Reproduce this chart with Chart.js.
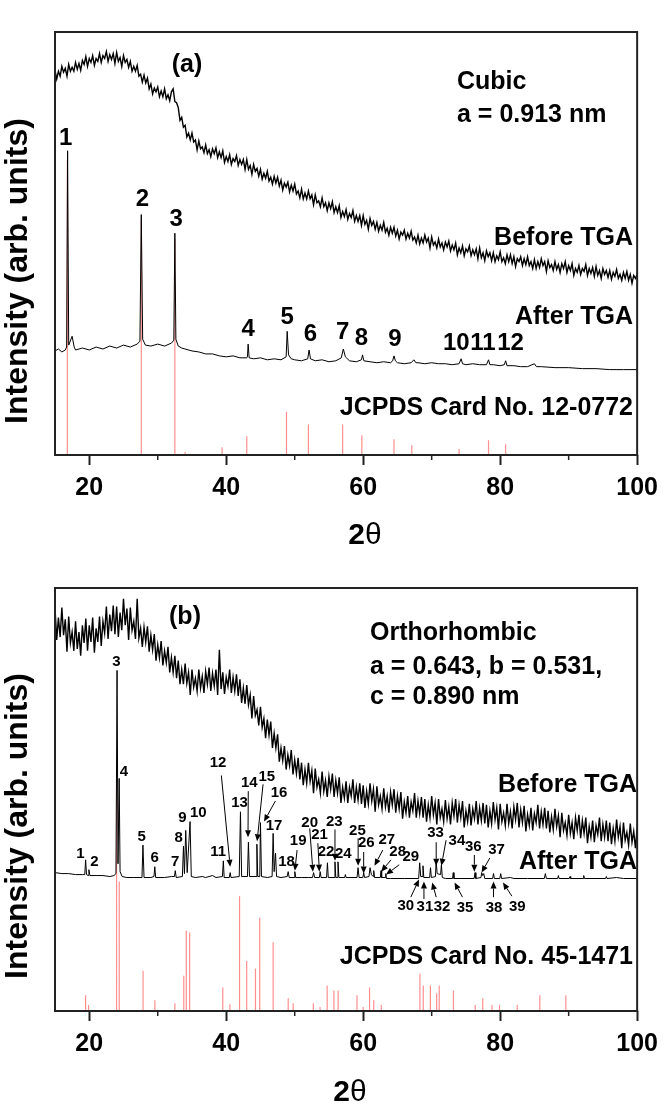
<!DOCTYPE html>
<html lang="en">
<head>
<meta charset="utf-8" />
<title>XRD patterns before / after TGA</title>
<script src="https://cdn.jsdelivr.net/npm/chart.js@4.4.1/dist/chart.umd.min.js"></script>
<style>
  html, body { margin: 0; padding: 0; background: #fff; }
  .panel { position: absolute; left: 0; width: 666px; height: 553px; }
  #pa { top: 0; }
  #pb { top: 553px; }
</style>
</head>
<body>
<div class="panel" id="pa"><canvas id="ca" width="666" height="553"></canvas></div>
<div class="panel" id="pb"><canvas id="cb" width="666" height="553"></canvas></div>
<script>
const FONT = "'Liberation Sans', Arial, sans-serif";

// 2-theta axis
const MAJOR_TICKS = [20, 40, 60, 80, 100];
const MINOR_TICKS = [30, 50, 70, 90];

// "Before TGA" scans are sampled every 0.25 deg from 15 to 100 (arb. units), 4 values per degree
const SCAN_START = 15;
const SCAN_STEP = 0.25;

// ---- panel (a): cubic ----
const beforeA = [
  392,383,391,386, 396,390,394,386, 398,391,395,391, 400,393,399,392, 402,398,406,396,
  404,400,407,397, 404,401,409,400, 407,404,411,401, 408,403,409,399, 410,401,405,396,
  407,400,403,395, 401,391,396,391, 397,386,388,380, 387,379,384,373, 378,368,374,370,
  375,365,371,365, 373,363,367,361, 370,373,360,359, 354,341,344,334, 336,324,328,321,
  328,319,321,311, 320,312,314,308, 316,307,311,304, 312,307,313,303, 309,303,310,298,
  304,299,306,296, 302,299,305,295, 301,296,301,291, 301,291,295,286, 296,289,292,284,
  291,281,287,282, 289,279,283,276, 284,277,283,274, 280,270,277,273, 278,268,275,269,
  276,266,269,262, 271,261,267,261, 269,261,265,255, 265,257,259,253, 262,253,257,249,
  257,251,258,247, 253,247,254,242, 248,243,250,240, 246,242,249,238, 244,238,244,234,
  244,235,239,230, 241,234,238,230, 237,228,234,229, 237,227,231,224, 232,226,232,223,
  229,220,227,224, 229,220,226,221, 228,219,222,216, 224,215,221,216, 224,217,221,211,
  222,214,217,211, 220,212,216,209, 217,212,218,208, 214,209,216,204, 211,206,213,203,
  210,207,213,203, 209,204,210,200, 211,201,206,198, 208,202,206,198, 206,197,203,199,
  207,197,201,195, 204,197,204,195, 202,192,200,197, 202,193,200,194, 202,193,197,190,
  199,190,197,191, 200,193,197,187, 198,191,194,188, 197,189,194,186, 195,190,197,186,
  193,188,195,183, 190,186,193,184, 190,187,194,183, 190,185,191,182, 192,183,188,180,
  190,184,188,181, 188,179,186,182, 189,180,184,178, 186,180,187,178, 184,175,183,180,
  184
];

// [2theta, intensity]
const afterA = [
  [15,106],[15.5,108],[16,105],[16.5,107],[16.7,110],[16.84,310],[17,112],[17.5,121],[17.8,110],[18,107],
  [19,109],[20,107],[21,110],[22,108],[23,111],[24,109],[25,112],[26,110],[27,113],[27.4,116],
  [27.6,245],[27.8,118],[28.2,112],[29,111],[30,113],[31,111],[32,114],[32.35,117],[32.5,226],[32.65,118],
  [33,111],[33.5,109],[34,108],[35,106],[36,105],[37,103],[38,103],[39,101],[40,100],[41,101],
  [42,99],[43,99],[43.1,100],[43.2,113],[43.35,99],[44,98],[45,99],[46,97],[47,98],[48,97],
  [48.75,100],[48.9,126],[49.1,102],[49.5,98],[50,97],[51,96],[51.9,98],[52.1,107],[52.3,98],[53,96],
  [54,97],[55,95],[56,96],[56.8,99],[57.1,108],[57.4,100],[58,96],[59,95],[59.75,97],[59.9,102],
  [60.1,96],[61,95],[62,94],[63,95],[64,94],[64.3,96],[64.5,101],[64.7,96],[65,94],[66,93],
  [67,94],[67.4,97],[67.7,94],[68,94],[69,93],[70,94],[71,93],[72,93],[73,92],[74,93],
  [74.3,98],[74.5,93],[75,92],[76,93],[77,92],[78,92],[78.3,97],[78.5,92],[79,92],[80,91],
  [80.6,92],[80.8,96],[81,91],[82,91],[83,90],[84,90],[85,93],[85.3,90],[86,90],[88,89],
  [90,89],[92,88],[94,88],[96,87],[98,87],[100,87]
];

// JCPDS 12-0772 reference lines [2theta, height]
const cardA = [
  [16.8,300],[27.6,240],[32.5,220],[34.0,3],[39.4,8],[43.0,19],[48.8,44],[52.0,31],
  [57.0,31],[59.8,20],[64.5,16],[67.1,10],[74.0,6],[78.3,15],[80.8,11]
];

// peak numbers [text, 2theta, intensity]
const peaksA = [
  ['1',16.56,323],['2',27.78,260],['3',32.69,240],['4',43.22,128],['5',48.91,140],['6',52.3,123],
  ['7',56.99,125],['8',59.73,119],['9',64.64,118],['10',73.59,114],['11',77.48,114],['12',81.52,114]
];

// ---- panel (b): orthorhombic ----
const beforeB = [
  411,378,401,381, 411,383,399,366, 402,375,386,367, 397,369,386,362, 393,375,400,367,
  393,376,401,365, 390,376,402,372, 397,385,412,379, 404,387,413,384, 412,381,406,388,
  420,393,410,378, 411,388,397,379, 420,380,390,371, 391,376,392,366, 383,368,384,357,
  373,360,377,352, 367,355,371,345, 360,345,362,339, 357,333,348,333, 354,334,345,322,
  348,330,339,326, 348,329,341,324, 346,333,350,326, 344,331,348,322, 368,328,345,323,
  340,331,348,324, 340,326,343,321, 338,314,329,313, 332,312,322,298, 321,301,307,291,
  310,289,298,278, 297,281,295,268, 283,268,282,254, 268,255,270,246, 261,250,266,241,
  256,242,258,236, 253,230,246,232, 253,234,245,222, 247,228,236,222, 244,224,235,218,
  239,226,242,218, 235,222,238,212, 228,217,234,212, 228,219,236,212, 228,215,232,211,
  230,207,224,211, 232,214,226,203, 229,210,219,206, 227,208,219,202, 223,210,226,202,
  219,206,223,196, 213,202,219,197, 213,204,222,197, 214,201,218,197, 216,193,210,197,
  219,200,212,190, 216,197,206,193, 215,196,208,190, 212,199,216,192, 210,197,214,187,
  204,193,211,189, 206,196,214,190, 207,194,212,191, 210,187,204,191, 213,195,207,185,
  211,193,202,189, 211,191,203,186, 208,195,212,187, 205,192,209,183, 200,189,207,184,
  201,192,210,186, 203,190,207,186, 204,182,198,185, 206,188,199,177, 202,184,192,179,
  200,181,192,175, 197,184,200,176, 194,181,197,171, 188,177,194,172, 189,180,197,173,
  190,177,194,173, 192,170,186,173, 195,177,188,166, 192,174,182,169, 191,172,183,166,
  186
];

const afterB = [
  [15,141],[16,140],[17,140],[18,139],[19,139],[19.35,139],[19.47,154],[19.6,139],[19.85,138],[19.95,144],
  [20.1,138],[21,138],[22,138],[23,137],[23.6,138],[23.9,140],[24.06,347],[24.2,150],[24.37,237],[24.5,142],
  [24.8,137],[25.5,136],[26.5,136],[27.7,136],[27.84,169],[28,136],[29,136],[29.45,137],[29.57,147],[29.7,136],
  [31,136],[32,137],[32.45,137],[32.56,143],[32.7,136],[33.6,137],[33.76,168],[33.9,140],[34.09,184],[34.3,141],
  [34.72,193],[34.9,137],[35.5,136],[36.5,137],[37,136],[38,138],[38.5,136],[39.45,137],[39.58,153],[39.7,136],
  [40.45,136],[40.58,141],[40.7,136],[41.9,137],[42.08,203],[42.25,137],[43.1,137],[43.24,172],[43.4,137],[44.35,137],
  [44.48,170],[44.6,137],[44.9,137],[45,192],[45.15,137],[46,136],[46.7,137],[46.85,181],[47,142],[47.2,161],
  [47.35,137],[48,136],[48.9,137],[49.05,142],[49.2,136],[49.9,136],[50.02,142],[50.15,136],[51,136],[52,136],
  [52.6,136],[52.76,141],[52.9,136],[53.6,136],[53.72,142],[53.85,136],[54.65,136],[54.78,151],[54.9,136],[55.75,136],
  [55.88,152],[56,136],[56.2,136],[56.32,152],[56.45,136],[57.3,136],[57.4,139],[57.5,136],[59.1,136],[59.25,146],
  [59.4,136],[59.95,136],[60.07,141],[60.2,136],[60.85,137],[61,146],[61.2,139],[61.45,137],[61.54,143],[61.65,136],
  [62.5,136],[62.6,143],[62.7,136],[63.2,136],[63.3,140],[63.4,135],[64,135],[66,135],[68.1,135],[68.25,151],
  [68.4,137],[68.6,137],[68.73,148],[68.85,136],[69.7,136],[69.83,146],[69.95,136],[70.55,137],[70.65,153],[70.8,140],
  [71.3,139],[71.42,149],[71.55,136],[72,135],[73.05,135],[73.15,141],[73.25,135],[74,135],[76.2,135],[76.33,141],
  [76.45,135],[77.2,136],[77.3,141],[77.45,138],[77.6,140],[77.75,135],[78.9,135],[79.03,140],[79.15,135],[79.95,135],
  [80.08,140],[80.2,135],[81.5,136],[82,135],[84,135],[86.45,135],[86.6,140],[86.75,135],[88.4,135],[88.5,138],
  [88.6,135],[90.1,135],[90.2,137],[90.3,135],[92.1,135],[92.2,138],[92.3,135],[95.4,135],[95.5,137],[95.6,135],
  [97,136],[98,135],[100,135]
];

// JCPDS 45-1471 reference lines
const cardB = [
  [19.47,16],[19.9,6],[23.99,237],[24.38,132],[27.86,41],[29.58,11],[32.5,8],[33.8,36],[34.17,82],[34.66,80],
  [39.5,24],[40.54,7],[41.95,117],[42.99,51],[44.27,43],[44.89,95],[46.85,70],[49.05,13],[49.78,8],[52.72,8],
  [53.7,4],[54.74,26],[55.72,21],[56.34,21],[59.09,16],[60.0,4],[60.93,24],[61.54,11],[62.64,6],[68.28,38],
  [68.77,26],[69.81,26],[70.73,18],[71.1,26],[73.18,21],[76.36,6],[77.46,13],[78.81,6],[79.91,6],[82.49,6],
  [85.79,16],[89.59,16]
];

const peaksB = [
  ['1',18.71,160],['2',20.77,152],['3',23.95,356],['4',25.07,244],['5',27.66,177],['6',29.57,156],
  ['7',32.56,152],['8',33.04,176],['9',33.61,197],['10',35.92,202],['11',38.81,162],['12',38.81,253],
  ['13',41.94,212],['14',43.38,232],['15',45.92,239],['16',47.71,222],['17',46.99,189],['18',48.81,152],
  ['19',50.5,173],['20',52.19,192],['21',53.63,179],['22',54.58,162],['23',55.79,193],['24',57.09,160],
  ['25',59.16,184],['26',60.45,171],['27',63.44,174],['28',65.03,162],['29',66.95,157],['30',66.23,107],
  ['31',69.01,106],['32',71.52,106],['33',70.56,182],['34',73.69,173],['35',74.88,105],['36',76.08,167],
  ['37',79.46,164],['38',79.11,105],['39',82.49,106]
];

// leader arrows [from 2theta, from int, to 2theta, to int]
const arrowsB = [
  [39.29,240,40.58,147],[43.22,224,43.18,177],[45.38,231,44.51,173],[47.18,214,45.52,193],
  [50.35,164,50.02,143],[52.19,186,52.66,142],[53.38,171,53.6,142],[55.88,185,55.88,153],
  [59.26,176,59.26,148],[60.07,162,60.07,140],[62.86,164,61.65,148],[64.06,154,62.62,142],
  [65.26,149,63.34,139],[66.95,116,68.15,134],[68.87,114,68.87,132],[70.66,116,70.08,131],
  [70.66,172,70.66,148],[72.1,174,71.42,148],[74.5,116,73.34,131],[76.23,159,76.23,142],
  [78.49,156,77.29,141],[79.03,116,79.03,132],[81.71,117,80.41,131]
];

function drawArrow(ctx, x1, y1, x2, y2) {
  const ang = Math.atan2(y2 - y1, x2 - x1);
  const L = 7, W = 3;
  const bx = x2 - L * Math.cos(ang), by = y2 - L * Math.sin(ang);
  ctx.beginPath();
  ctx.moveTo(x1, y1);
  ctx.lineTo(bx, by);
  ctx.stroke();
  ctx.beginPath();
  ctx.moveTo(x2, y2);
  ctx.lineTo(bx - W * Math.sin(ang), by + W * Math.cos(ang));
  ctx.lineTo(bx + W * Math.sin(ang), by - W * Math.cos(ang));
  ctx.closePath();
  ctx.fill();
}

function makeOverlay(cfg) {
  return {
    id: 'overlay',
    afterDatasetsDraw(chart) {
      const { ctx, chartArea: a } = chart;
      const x = chart.scales.x, y = chart.scales.y;
      ctx.save();
      ctx.strokeStyle = '#222';
      ctx.fillStyle = '#000';

      ctx.lineWidth = 2;
      ctx.strokeRect(a.left, a.top, a.right - a.left, a.bottom - a.top);

      ctx.lineWidth = 1.5;
      ctx.beginPath();
      for (const v of MINOR_TICKS) {
        const px = x.getPixelForValue(v);
        ctx.moveTo(px, a.bottom);
        ctx.lineTo(px, a.bottom + 5);
      }
      ctx.stroke();

      ctx.lineWidth = 1;
      ctx.strokeStyle = '#000';
      for (const [fx, fy, tx, ty] of cfg.arrows) {
        drawArrow(ctx, x.getPixelForValue(fx), y.getPixelForValue(fy),
                  x.getPixelForValue(tx), y.getPixelForValue(ty));
      }

      ctx.textAlign = 'center';
      ctx.textBaseline = 'middle';
      ctx.font = `bold ${cfg.peakSize}px ${FONT}`;
      for (const [t, vx, vy] of cfg.peaks) {
        ctx.fillText(t, x.getPixelForValue(vx), y.getPixelForValue(vy));
      }

      ctx.font = `bold 25px ${FONT}`;
      for (const n of cfg.notes) {
        ctx.textAlign = n.align;
        ctx.fillText(n.text, n.x, n.y);
      }

      // x title: bold 2, plain theta
      ctx.textAlign = 'left';
      ctx.font = `bold 30px ${FONT}`;
      const w2 = ctx.measureText('2').width;
      ctx.font = `30px ${FONT}`;
      const wt = ctx.measureText('\u03b8').width;
      const sx = cfg.xTitle[0] - (w2 + wt) / 2;
      ctx.font = `bold 30px ${FONT}`;
      ctx.fillText('2', sx, cfg.xTitle[1]);
      ctx.font = `30px ${FONT}`;
      ctx.fillText('\u03b8', sx + w2, cfg.xTitle[1]);

      ctx.translate(cfg.yTitle[0], cfg.yTitle[1]);
      ctx.rotate(-Math.PI / 2);
      ctx.textAlign = 'center';
      ctx.font = `bold 32px ${FONT}`;
      ctx.fillText('Intensity (arb. units)', 0, 0);
      ctx.restore();
    }
  };
}

function makeChart(id, before, after, card, pad, overlayCfg) {
  return new Chart(document.getElementById(id), {
    type: 'line',
    data: {
      datasets: [
        {
          label: 'After TGA',
          data: after.map(([x, y]) => ({ x, y })),
          borderColor: '#000', borderWidth: 1, order: 0,
        },
        {
          label: 'Before TGA',
          data: before.map((y, i) => ({ x: SCAN_START + i * SCAN_STEP, y })),
          borderColor: '#000', borderWidth: 1.4, order: 1,
        },
        {
          label: 'JCPDS',
          data: card.flatMap(([x, h]) => [{ x, y: 0 }, { x, y: h }, { x, y: null }]),
          borderColor: '#ff8f8f', borderWidth: 1.2, order: 2, spanGaps: false,
        },
      ],
    },
    options: {
      responsive: false,
      animation: false,
      devicePixelRatio: 1,
      layout: { padding: pad },
      elements: { point: { radius: 0 }, line: { tension: 0 } },
      plugins: { legend: { display: false }, tooltip: { enabled: false } },
      scales: {
        x: {
          type: 'linear', min: 15, max: 100,
          afterBuildTicks: (s) => { s.ticks = MAJOR_TICKS.map((v) => ({ value: v })); },
          grid: { drawOnChartArea: false, drawTicks: true, tickLength: 10, tickWidth: 2, tickColor: '#222' },
          border: { display: false },
          ticks: {
            color: '#000', padding: 8, maxRotation: 0, autoSkip: false,
            font: { family: FONT, size: 25, weight: 'bold' },
          },
        },
        y: { display: false, min: 0, max: 431 },
      },
    },
    plugins: [makeOverlay(overlayCfg)],
  });
}

makeChart('ca', beforeA, afterA, cardA,
  { left: 55, right: 22, top: 32, bottom: 42 },
  {
    peaks: peaksA, peakSize: 24, arrows: [],
    notes: [
      { text: '(a)', x: 187, y: 65, align: 'center' },
      { text: 'Cubic', x: 457, y: 82, align: 'left' },
      { text: 'a = 0.913 nm', x: 457, y: 115, align: 'left' },
      { text: 'Before TGA', x: 633, y: 238, align: 'right' },
      { text: 'After TGA', x: 633, y: 317, align: 'right' },
      { text: 'JCPDS Card No. 12-0772', x: 633, y: 408, align: 'right' },
    ],
    xTitle: [365, 536], yTitle: [18, 271],
  });

makeChart('cb', beforeB, afterB, cardB,
  { left: 55, right: 22, top: 35, bottom: 39 },
  {
    peaks: peaksB, peakSize: 15, arrows: arrowsB,
    notes: [
      { text: '(b)', x: 185, y: 64, align: 'center' },
      { text: 'Orthorhombic', x: 370, y: 80, align: 'left' },
      { text: 'a = 0.643, b = 0.531,', x: 370, y: 114, align: 'left' },
      { text: 'c = 0.890 nm', x: 370, y: 144, align: 'left' },
      { text: 'Before TGA', x: 637, y: 232, align: 'right' },
      { text: 'After TGA', x: 637, y: 309, align: 'right' },
      { text: 'JCPDS Card No. 45-1471', x: 633, y: 404, align: 'right' },
    ],
    xTitle: [350, 540], yTitle: [18, 273],
  });
</script>
</body>
</html>
